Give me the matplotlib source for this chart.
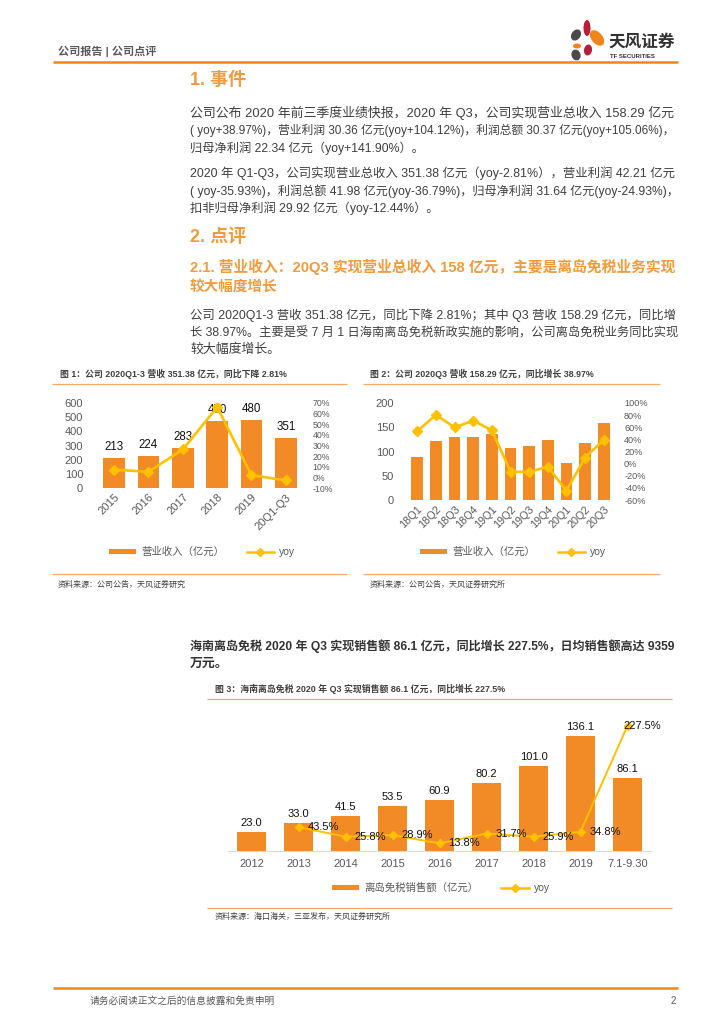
import matplotlib
matplotlib.use('Agg')
import numpy as np
import matplotlib.pyplot as plt
from matplotlib.patches import Ellipse, Patch
from matplotlib.lines import Line2D
from matplotlib.ticker import FuncFormatter

plt.rcParams['font.family'] = ['Liberation Sans', 'Noto Sans CJK SC', 'DejaVu Sans']

# ---- data ----
years1 = ['2015', '2016', '2017', '2018', '2019', '20Q1-Q3']
rev1 = [213, 224, 283, 470, 480, 351]
yoy1 = [7.4, 5.2, 26.3, 66.1, 2.1, -2.8]

quarters2 = ['18Q1', '18Q2', '18Q3', '18Q4', '19Q1', '19Q2', '19Q3', '19Q4',
             '20Q1', '20Q2', '20Q3']
rev2 = [89, 122, 130, 129, 137, 107, 112, 124, 76, 117, 158.29]
yoy2 = [53.5, 80.5, 59.6, 71.0, 55.0, -13.0, -14.0, -5.0, -44.7, 10.0, 38.97]

years3 = ['2012', '2013', '2014', '2015', '2016', '2017', '2018', '2019', '7.1-9.30']
sales3 = [23.0, 33.0, 41.5, 53.5, 60.9, 80.2, 101.0, 136.1, 86.1]
yoy3 = [np.nan, 43.5, 25.8, 28.9, 13.8, 31.7, 25.9, 34.8, 227.5]

ORANGE = '#F28A25'
LINE_ORANGE = '#F08519'
SOFT_ORANGE = '#F5A863'
YELLOW = '#FFC000'
GRAY = '#595959'
TEXT = '#3F3F3F'
HEAD = '#F39A3A'

W, H = 724, 1024
fig = plt.figure(figsize=(W / 100, H / 100), dpi=100)
renderer = fig.canvas.get_renderer()

# page layer in pixel coordinates
bg = fig.add_axes([0, 0, 1, 1])
bg.set_xlim(0, W)
bg.set_ylim(H, 0)
bg.axis('off')


def put(x, y, s, size, width=None, **kw):
    t = bg.text(x, y, s, fontsize=size, va='center', ha=kw.pop('ha', 'left'), **kw)
    if width:
        w = t.get_window_extent(renderer).width
        t.set_fontsize(size * min(max(width / w, 0.9), 1.1))
    return t


def hline(y, x0, x1, color=SOFT_ORANGE, lw=0.9):
    bg.plot([x0, x1], [y, y], color=color, lw=lw, solid_capstyle='butt')


# header
put(58, 51, '公司报告 | 公司点评', 8, color=GRAY, fontweight='bold')
hline(62, 53, 678, LINE_ORANGE, 1.8)
for (cx, cy, w, h, a, c) in [(576, 35, 9, 12, 35, '#4A4A4A'),
                             (587, 28, 7, 16, 0, '#B51F3A'),
                             (597, 38, 11, 18, -40, '#F08519'),
                             (577, 46, 8, 5, 0, '#F08519'),
                             (588, 50, 8, 11, 10, '#B51F3A'),
                             (576, 55, 9, 11, -20, '#4A4A4A')]:
    bg.add_patch(Ellipse((cx, cy), w, h, angle=a, color=c, lw=0))
put(608, 42, '天风证券', 12, color='#333333', fontweight='bold')
put(610, 56, 'TF SECURITIES', 4.3, color='#333333', fontweight='bold')

# section 1
put(190, 80, '1. 事件', 13, color=HEAD, fontweight='bold')
TW = 486
put(190, 113, '公司公布 2020 年前三季度业绩快报，2020 年 Q3，公司实现营业总收入 158.29 亿元', 8.8, TW, color=TEXT)
put(190, 130, '( yoy+38.97%)，营业利润 30.36 亿元(yoy+104.12%)，利润总额 30.37 亿元(yoy+105.06%)，', 8.8, TW, color=TEXT)
put(190, 148, '归母净利润 22.34 亿元（yoy+141.90%）。', 8.8, color=TEXT)
put(190, 173, '2020 年 Q1-Q3，公司实现营业总收入 351.38 亿元（yoy-2.81%），营业利润 42.21 亿元', 8.8, TW, color=TEXT)
put(190, 191, '( yoy-35.93%)，利润总额 41.98 亿元(yoy-36.79%)，归母净利润 31.64 亿元(yoy-24.93%)，', 8.8, TW, color=TEXT)
put(190, 208, '扣非归母净利润 29.92 亿元（yoy-12.44%）。', 8.8, color=TEXT)

# section 2
put(190, 237, '2. 点评', 13, color=HEAD, fontweight='bold')
put(190, 267, '2.1. 营业收入：20Q3 实现营业总收入 158 亿元，主要是离岛免税业务实现', 10.5, TW,
    color=HEAD, fontweight='bold')
put(190, 287, '较大幅度增长', 10.5, color=HEAD, fontweight='bold')
put(190, 315, '公司 2020Q1-3 营收 351.38 亿元，同比下降 2.81%；其中 Q3 营收 158.29 亿元，同比增', 9.3, TW, color=TEXT)
put(190, 333, '长 38.97%。主要是受 7 月 1 日海南离岛免税新政实施的影响，公司离岛免税业务同比实现', 9.3, TW, color=TEXT)
put(190, 350, '较大幅度增长。', 9.3, color=TEXT)

# chart frames
put(60, 374, '图 1：公司 2020Q1-3 营收 351.38 亿元，同比下降 2.81%', 6.4, color='#404040', fontweight='bold')
put(370, 374, '图 2：公司 2020Q3 营收 158.29 亿元，同比增长 38.97%', 6.4, color='#404040', fontweight='bold')
hline(384, 52, 347)
hline(384, 363, 660)
hline(574, 52, 347)
hline(574, 363, 660)
put(58, 585, '资料来源：公司公告，天风证券研究', 5.8, color='#404040')
put(370, 585, '资料来源：公司公告，天风证券研究所', 5.8, color='#404040')

put(190, 646, '海南离岛免税 2020 年 Q3 实现销售额 86.1 亿元，同比增长 227.5%，日均销售额高达 9359', 9.3, TW,
    color='#333333', fontweight='bold')
put(190, 664, '万元。', 9.3, color='#333333', fontweight='bold')
put(215, 689, '图 3：海南离岛免税 2020 年 Q3 实现销售额 86.1 亿元，同比增长 227.5%', 6.4, color='#404040', fontweight='bold')
hline(699, 207, 672)
hline(908, 207, 672)
put(215, 917, '资料来源：海口海关，三亚发布，天风证券研究所', 5.8, color='#404040')

# footer
hline(988, 53, 678, LINE_ORANGE, 1.8)
put(90, 1001, '请务必阅读正文之后的信息披露和免责申明', 7, color=GRAY)
put(676, 1001, '2', 7, color=GRAY, ha='right')


def axes_px(left, right, top, bottom):
    return fig.add_axes([left / W, 1 - bottom / H, (right - left) / W, (bottom - top) / H])


def pct(v, _):
    return '{:.0f}%'.format(v)


def clean(ax, bottom=False):
    for s in ax.spines.values():
        s.set_visible(False)
    if bottom:
        ax.spines['bottom'].set_visible(True)
        ax.spines['bottom'].set_color('#D9D9D9')
    ax.tick_params(length=0, colors=GRAY)
    ax.patch.set_alpha(0)


def legend(ax, label, cx, cy, size=7.5):
    handles = [Patch(facecolor=ORANGE, edgecolor='none'),
               Line2D([], [], color=YELLOW, lw=1.8, marker='D', markersize=4.5)]
    fig.legend(handles, [label, 'yoy'], loc='center', bbox_to_anchor=(cx / W, 1 - cy / H),
               ncol=2, frameon=False, fontsize=size, labelcolor=GRAY,
               handlelength=2.6, handleheight=0.45, columnspacing=2.2, handletextpad=0.5)


# ---- chart 1 ----
ax1 = axes_px(97, 303, 403, 488)
x1 = np.arange(len(years1))
bars = ax1.bar(x1, rev1, width=0.63, color=ORANGE, zorder=2)
ax1.set_xlim(-0.5, len(years1) - 0.5)
ax1.set_ylim(0, 600)
ax1.set_yticks(range(0, 601, 100))
ax1.set_xticks(x1)
ax1.set_xticklabels(years1, rotation=45, ha='right', rotation_mode='anchor')
clean(ax1)
ax1.tick_params(axis='y', labelsize=8, pad=10)
ax1.tick_params(axis='x', labelsize=8, pad=3)
for b, v in zip(bars, rev1):
    ax1.annotate('{:.0f}'.format(v), (b.get_x() + b.get_width() / 2, v), xytext=(0, 5),
                 textcoords='offset pixels', ha='center', va='bottom', fontsize=8.3, color='#111111')
t1 = ax1.twinx()
t1.plot(x1, yoy1, color=YELLOW, lw=1.9, marker='D', markersize=5, zorder=3)
t1.set_ylim(-10, 70)
t1.set_yticks(range(-10, 71, 10))
t1.yaxis.set_major_formatter(FuncFormatter(pct))
clean(t1)
t1.tick_params(axis='y', labelsize=6.3, pad=7)
legend(ax1, '营业收入（亿元）', 202, 552)

# ---- chart 2 ----
ax2 = axes_px(408, 613, 403, 500)
x2 = np.arange(len(quarters2))
ax2.bar(x2, rev2, width=0.63, color=ORANGE, zorder=2)
ax2.set_xlim(-0.5, len(quarters2) - 0.5)
ax2.set_ylim(0, 200)
ax2.set_yticks(range(0, 201, 50))
ax2.set_xticks(x2)
ax2.set_xticklabels(quarters2, rotation=45, ha='right', rotation_mode='anchor')
clean(ax2)
ax2.tick_params(axis='y', labelsize=8, pad=10)
ax2.tick_params(axis='x', labelsize=7.8, pad=3)
t2 = ax2.twinx()
t2.plot(x2, yoy2, color=YELLOW, lw=1.9, marker='D', markersize=5, zorder=3)
t2.set_ylim(-60, 100)
t2.set_yticks(range(-60, 101, 20))
t2.yaxis.set_major_formatter(FuncFormatter(pct))
clean(t2)
t2.tick_params(axis='y', labelsize=6.6, pad=8)
legend(ax2, '营业收入（亿元）', 513, 552)

# ---- chart 3 ----
ax3 = axes_px(228, 651, 716, 851)
x3 = np.arange(len(years3))
bars3 = ax3.bar(x3, sales3, width=0.625, color=ORANGE, zorder=2)
ax3.set_xlim(-0.5, len(years3) - 0.5)
ax3.set_ylim(0, 160)
ax3.set_yticks([])
ax3.set_xticks(x3)
ax3.set_xticklabels(years3)
clean(ax3, bottom=True)
ax3.tick_params(axis='x', labelsize=8, pad=6)
for b, v in zip(bars3, sales3):
    ax3.annotate('{:.1f}'.format(v), (b.get_x() + b.get_width() / 2, v), xytext=(0, 4),
                 textcoords='offset pixels', ha='center', va='bottom', fontsize=8, color='#111111')
t3 = ax3.twinx()
t3.plot(x3, yoy3, color=YELLOW, lw=1.4, marker='D', markersize=4.5, zorder=3)
t3.set_ylim(0, 245)
t3.set_yticks([])
clean(t3)
for i, v in enumerate(yoy3):
    if np.isnan(v):
        continue
    dx = -4 if i == len(yoy3) - 1 else 9
    t3.annotate('{:.1f}%'.format(v), (i, v), xytext=(dx, 0), textcoords='offset pixels',
                ha='left', va='center', fontsize=8, color='#111111')
legend(ax3, '离岛免税销售额（亿元）', 441, 888, size=7.5)

fig.savefig('out.png', dpi=100)
